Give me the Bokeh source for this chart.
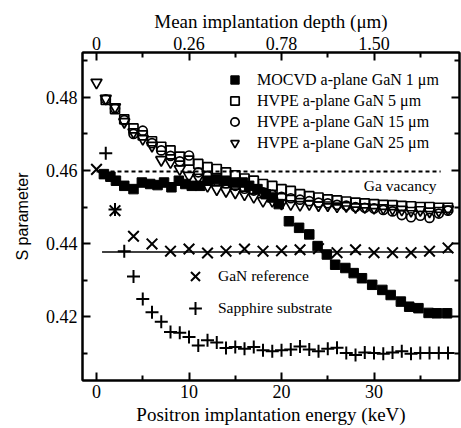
from bokeh.plotting import figure
from bokeh.models import LinearAxis, FixedTicker, Legend, LegendItem, Label, Range1d
from bokeh.embed import file_html
from bokeh.resources import INLINE

# ---------------- data ----------------
mocvd_E = [0.8, 1.5, 2.1, 3.0, 4.0, 4.9, 5.8, 6.6, 7.3, 8.1, 8.9, 9.6, 10.3, 11.2, 12.0, 12.9,
           13.9, 14.8, 15.8, 16.5, 17.4, 18.3, 19.0, 19.7, 20.8, 21.9, 23.0, 23.9, 24.9, 25.8,
           26.9, 27.8, 28.7, 29.8, 30.9, 31.8, 32.9, 33.8, 34.8, 35.9, 36.8, 37.9]
mocvd_S = [0.4590, 0.4583, 0.4572, 0.4558, 0.4549, 0.4567, 0.4563, 0.4560, 0.4567, 0.4554,
           0.4572, 0.4563, 0.4558, 0.4558, 0.4572, 0.4577, 0.4572, 0.4567, 0.4567, 0.4558,
           0.4549, 0.4535, 0.4526, 0.4508, 0.4461, 0.4443, 0.4425, 0.4393, 0.4370, 0.4342,
           0.4333, 0.4319, 0.4305, 0.4287, 0.4273, 0.4259, 0.4241, 0.4227, 0.4223, 0.4210,
           0.4209, 0.4209]

hvpe5_E = [1, 2, 3, 4, 5, 6, 7, 8, 9, 10, 11, 12, 13, 14, 15, 16, 17, 18, 19, 20,
           21, 22, 23, 24, 25, 26, 27, 28, 29, 30, 31, 32, 33, 34, 35, 36, 37, 38]
hvpe5_S = [0.4793, 0.4768, 0.4740, 0.4715, 0.4696, 0.4680, 0.4665, 0.4655, 0.4638, 0.4627,
           0.4618, 0.4609, 0.4604, 0.4595, 0.4587, 0.4578, 0.4572, 0.4563, 0.4558, 0.4549,
           0.4544, 0.4535, 0.4530, 0.4526, 0.4521, 0.4518, 0.4515, 0.4512, 0.4510, 0.4508,
           0.4506, 0.4505, 0.4503, 0.4502, 0.4500, 0.4500, 0.4498, 0.4498]

hvpe15_E = [1, 2, 3, 4, 5, 6, 7, 8, 9, 10, 11, 12, 13, 14, 15, 16, 17, 18, 19, 20,
            21, 22, 23, 24, 25, 26, 27, 28, 29, 30, 31, 32, 33, 34, 35, 36, 37, 38]
hvpe15_S = [0.4795, 0.4770, 0.4738, 0.4700, 0.4709, 0.4675, 0.4655, 0.4640, 0.4625, 0.4641,
            0.4595, 0.4585, 0.4572, 0.4565, 0.4558, 0.4550, 0.4545, 0.4540, 0.4533, 0.4528,
            0.4524, 0.4520, 0.4516, 0.4512, 0.4510, 0.4506, 0.4504, 0.4500, 0.4498, 0.4496,
            0.4492, 0.4488, 0.4478, 0.4472, 0.4476, 0.4470, 0.4482, 0.4490]

hvpe25_E = [0, 1, 2, 3, 4, 5, 6, 7, 8, 9, 10, 11, 12, 13, 14, 15, 16, 17, 18, 19, 20,
            21, 22, 23, 24, 25, 26, 27, 28, 29, 30, 31, 32, 33, 34, 35, 36, 37, 38]
hvpe25_S = [0.4841, 0.4797, 0.4774, 0.4733, 0.4705, 0.4687, 0.4668, 0.4629, 0.4623, 0.4604,
            0.4586, 0.4581, 0.4558, 0.4549, 0.4544, 0.4540, 0.4535, 0.4528, 0.4517, 0.4517,
            0.4510, 0.4508, 0.4506, 0.4508, 0.4505, 0.4505, 0.4502, 0.4503, 0.4500, 0.4500,
            0.4498, 0.4497, 0.4495, 0.4493, 0.4490, 0.4492, 0.4488, 0.4490, 0.4494]

gan_E = [0, 2, 4, 6, 8, 10, 12, 14, 16, 18, 20, 22, 24, 26, 28, 30, 32, 34, 36, 38]
gan_S = [0.4603, 0.4490, 0.4420, 0.4399, 0.4379, 0.4385, 0.4374, 0.4379, 0.4385, 0.4379,
         0.4380, 0.4383, 0.4386, 0.4375, 0.4383, 0.4375, 0.4375, 0.4375, 0.4379, 0.4388]

sapph_E = [1, 2, 3, 4, 5, 6, 7, 8, 9, 10, 11, 12, 13, 14, 15, 16, 17, 18, 19, 20,
           21, 22, 23, 24, 25, 26, 27, 28, 29, 30, 31, 32, 33, 34, 35, 36, 37, 38]
sapph_S = [0.4647, 0.4493, 0.4379, 0.4310, 0.4248, 0.4212, 0.4186, 0.4158, 0.4156, 0.4144,
           0.4121, 0.4135, 0.4129, 0.4114, 0.4117, 0.4112, 0.4117, 0.4108, 0.4105, 0.4108,
           0.4110, 0.4118, 0.4110, 0.4105, 0.4112, 0.4115, 0.4100, 0.4095, 0.4102, 0.4100,
           0.4098, 0.4102, 0.4105, 0.4098, 0.4100, 0.4100, 0.4100, 0.4100]

ga_vac_E = [0, 37.2]
ga_vac_S = [0.4597, 0.4597]
gan_line_E = [0.6, 38.5]
gan_line_S = [0.4377, 0.4377]

energy_ticks = [0, 10, 20, 30]
energy_minor = [5, 15, 25, 35]
depth_labels = ["0", "0.26", "0.78", "1.50"]
s_ticks = [0.42, 0.44, 0.46, 0.48]
s_minor = [0.41, 0.43, 0.45, 0.47, 0.49]

SERIF = "Liberation Serif"

# ---------------- figure ----------------
p = figure(width=461, height=428, output_backend="svg", toolbar_location=None,
           x_range=Range1d(-1.514, 39.24), y_range=Range1d(0.4025, 0.4923),
           min_border_left=82, min_border_right=2, min_border_top=52, min_border_bottom=48)
p.grid.visible = False
p.outline_line_color = "black"
p.outline_line_width = 2
p.background_fill_color = "white"


def style_axis(ax, ticks, minor, labels=True):
    ax.ticker = FixedTicker(ticks=ticks, minor_ticks=minor)
    ax.axis_line_width = 2
    ax.axis_line_color = "black"
    ax.major_tick_line_width = 2
    ax.minor_tick_line_width = 2
    ax.major_tick_in = 8
    ax.major_tick_out = 0
    ax.minor_tick_in = 5
    ax.minor_tick_out = 0
    ax.major_label_text_font = SERIF
    ax.major_label_text_font_size = "18px" if labels else "0px"
    ax.major_label_text_color = "black" if labels else None
    ax.major_label_standoff = 3 if labels else 0
    ax.axis_label_text_font = SERIF
    ax.axis_label_text_font_size = "19px"
    ax.axis_label_text_font_style = "normal"
    ax.axis_label_text_color = "black"
    ax.axis_label_standoff = 2


xb = p.xaxis[0]
style_axis(xb, energy_ticks, energy_minor)
xb.major_label_standoff = 4
xb.axis_label_standoff = 3
xb.axis_label = "Positron implantation energy (keV)"

yl = p.yaxis[0]
style_axis(yl, s_ticks, s_minor)
yl.major_label_standoff = 5
yl.axis_label = "S parameter"
yl.axis_label_text_font = "Liberation Sans"
yl.axis_label_text_font_size = "16px"
yl.axis_label_standoff = 12

xt = LinearAxis()
style_axis(xt, energy_ticks, energy_minor)
xt.major_label_overrides = {t: lab for t, lab in zip(energy_ticks, depth_labels)}
xt.axis_label = "Mean implantation depth (\u03bcm)"
p.add_layout(xt, "above")

yr = LinearAxis()
style_axis(yr, s_ticks, s_minor, labels=False)
p.add_layout(yr, "right")

# ---------------- reference lines ----------------
p.line(ga_vac_E, ga_vac_S, line_color="black", line_width=2, line_dash="4 3")
p.line(gan_line_E, gan_line_S, line_color="black", line_width=1.5)

# ---------------- data markers ----------------
r_gan = p.scatter(gan_E, gan_S, marker="x", size=15, line_color="black", line_width=2)
r_sap = p.scatter(sapph_E, sapph_S, marker="cross", size=13, line_color="black", line_width=2)
r_mo = p.scatter(mocvd_E, mocvd_S, marker="square", size=9.5, fill_color="black", line_color="black", line_width=1)
r_h5 = p.scatter(hvpe5_E, hvpe5_S, marker="square", size=9, fill_color=None, line_color="black", line_width=1.7)
r_h15 = p.scatter(hvpe15_E, hvpe15_S, marker="circle", size=9, fill_color=None, line_color="black", line_width=1.7)
r_h25 = p.scatter(hvpe25_E, hvpe25_S, marker="inverted_triangle", size=11, fill_color=None, line_color="black", line_width=1.7)

leg1 = Legend(items=[
    LegendItem(label="MOCVD a-plane GaN 1 \u03bcm", renderers=[r_mo]),
    LegendItem(label="HVPE a-plane GaN 5 \u03bcm", renderers=[r_h5]),
    LegendItem(label="HVPE a-plane GaN 15 \u03bcm", renderers=[r_h15]),
    LegendItem(label="HVPE a-plane GaN 25 \u03bcm", renderers=[r_h25]),
], location=(142, 227), padding=0, margin=0, spacing=0,
    glyph_height=21, glyph_width=21, label_height=21, label_standoff=12,
    border_line_alpha=0, background_fill_alpha=0,
    label_text_font=SERIF, label_text_font_size="16px", label_text_color="black")
p.add_layout(leg1)

leg2 = Legend(items=[
    LegendItem(label="GaN reference", renderers=[r_gan]),
    LegendItem(label="Sapphire substrate", renderers=[r_sap]),
], location=(97, 56), padding=0, margin=0, spacing=-11,
    glyph_height=32, glyph_width=32, label_height=21, label_standoff=7,
    border_line_alpha=0, background_fill_alpha=0,
    label_text_font=SERIF, label_text_font_size="15.5px", label_text_color="black")
p.add_layout(leg2)

p.add_layout(Label(x=28.9, y=0.4559, text="Ga vacancy", text_font=SERIF,
                   text_font_size="15.5px", text_baseline="middle", text_color="black"))

open("out.html", "w").write(file_html(p, INLINE))
